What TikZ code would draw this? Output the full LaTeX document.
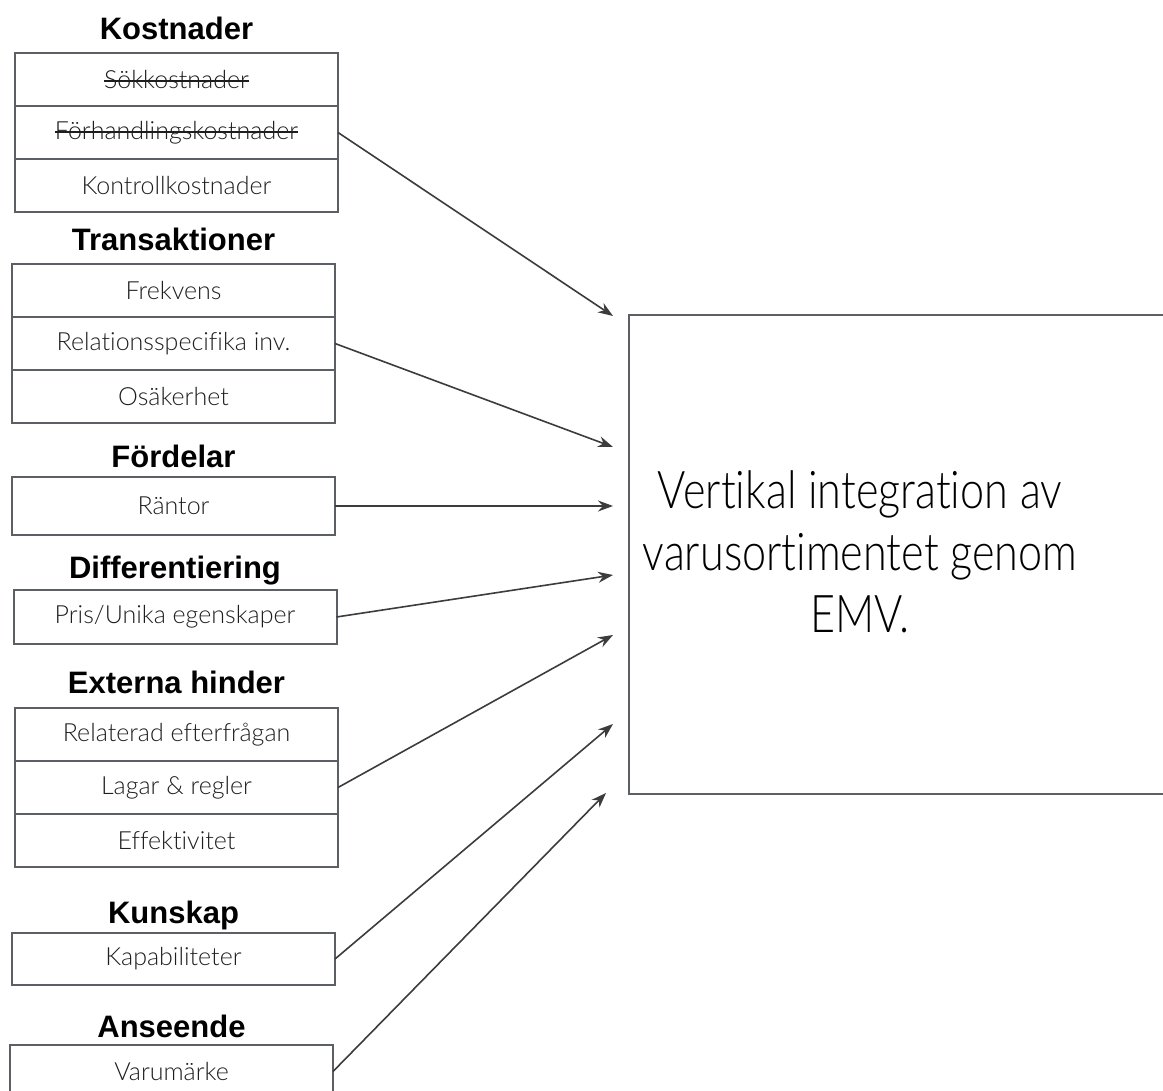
\documentclass[tikz,border=0pt]{standalone}
\usepackage{fontspec}
\setmainfont{Liberation Sans}
\newfontfamily\lightfont{Lato Light}[Ligatures=NoCommon]
\newfontfamily\bigfont{Lato Light}[Ligatures=NoCommon, FakeStretch=0.83]
\usetikzlibrary{arrows.meta,positioning}
\definecolor{boxgray}{RGB}{92,95,99}
\definecolor{arrowgray}{RGB}{60,60,60}
\definecolor{txtgray}{RGB}{30,30,30}

% struck-out cell text
\newsavebox{\strkbox}
\newcommand{\strk}[1]{\sbox{\strkbox}{#1}\rlap{\rule[0.27em]{\wd\strkbox}{1.3pt}}\usebox{\strkbox}}

\begin{document}
\begin{tikzpicture}[x=1pt, y=-1pt,
  cell/.style={draw=boxgray, line width=2pt, rectangle, minimum width=323pt, minimum height=53pt, outer sep=0pt, inner sep=0pt, font=\lightfont\fontsize{25}{30}\selectfont, text=txtgray},
  head/.style={font=\bfseries\fontsize{31}{36}\selectfont, inner sep=0pt, text height=22pt, text depth=6pt},
  arr/.style={-{Stealth[length=15pt, width=11pt]}, line width=1.6pt, draw=arrowgray}]
\clip (0,0) rectangle (1163,1091);

% Kostnader
\node[cell] (sok) at (176.5,79.5) {\strk{Sökkostnader}};
\node[cell, below=0pt of sok] (forh) {\strk{Förhandlingskostnader}};
\node[cell, below=0pt of forh] (kontroll) {Kontrollkostnader};
\node[head, above=7pt of sok] (kostnader) {Kostnader};

% Transaktioner
\node[cell] (frekvens) at (173.5,290.5) {Frekvens};
\node[cell, below=0pt of frekvens] (rel) {Relationsspecifika inv.};
\node[cell, below=0pt of rel] (osakerhet) {Osäkerhet};
\node[head, above=7pt of frekvens] (transaktioner) {Transaktioner};

% Fördelar, Differentiering
\node[cell, minimum height=58pt] (rantor) at (173.5,506) {Räntor};
\node[head, above=3pt of rantor] (fordelar) {Fördelar};
\node[cell, minimum height=54pt] (pris) at (175,617) {Pris/Unika egenskaper};
\node[head, above=5pt of pris] (diff) {Differentiering};

% Externa hinder
\node[cell] (relefter) at (176.5,734.5) {Relaterad efterfrågan};
\node[cell, below=0pt of relefter] (lagar) {Lagar \& regler};
\node[cell, below=0pt of lagar] (effekt) {Effektivitet};
\node[head, above=8pt of relefter] (externa) {Externa hinder};

% Kunskap, Anseende
\node[cell, minimum height=52pt] (kap) at (173.5,959) {Kapabiliteter};
\node[head, above=3pt of kap] (kunskap) {Kunskap};
\node[cell] (varu) at (171.5,1071.5) {Varumärke};
\node[head, above=1pt of varu] (anseende) {Anseende};

% EMV box (runs off the right edge)
\node[draw=boxgray, line width=2pt, rectangle, minimum width=600pt, minimum height=479pt, anchor=north west] (emv) at (628,314) {};
\node[font=\bigfont\fontsize{52}{62}\selectfont, text=black, align=center] (emvtext) at (860,552) {Vertikal integration av\\varusortimentet genom\\EMV.};

\coordinate (in1) at (613,316);
\coordinate (in2) at (613,447);
\coordinate (in3) at (613,506);
\coordinate (in4) at (613,575);
\coordinate (in5) at (613,635);
\coordinate (in6) at (613,724);
\coordinate (in7) at (606,793);

\foreach \src/\dst in {forh/in1, rel/in2, rantor/in3, pris/in4, lagar/in5, kap/in6, varu/in7}
  \draw[arr] (\src.east) -- (\dst);
\end{tikzpicture}
\end{document}
